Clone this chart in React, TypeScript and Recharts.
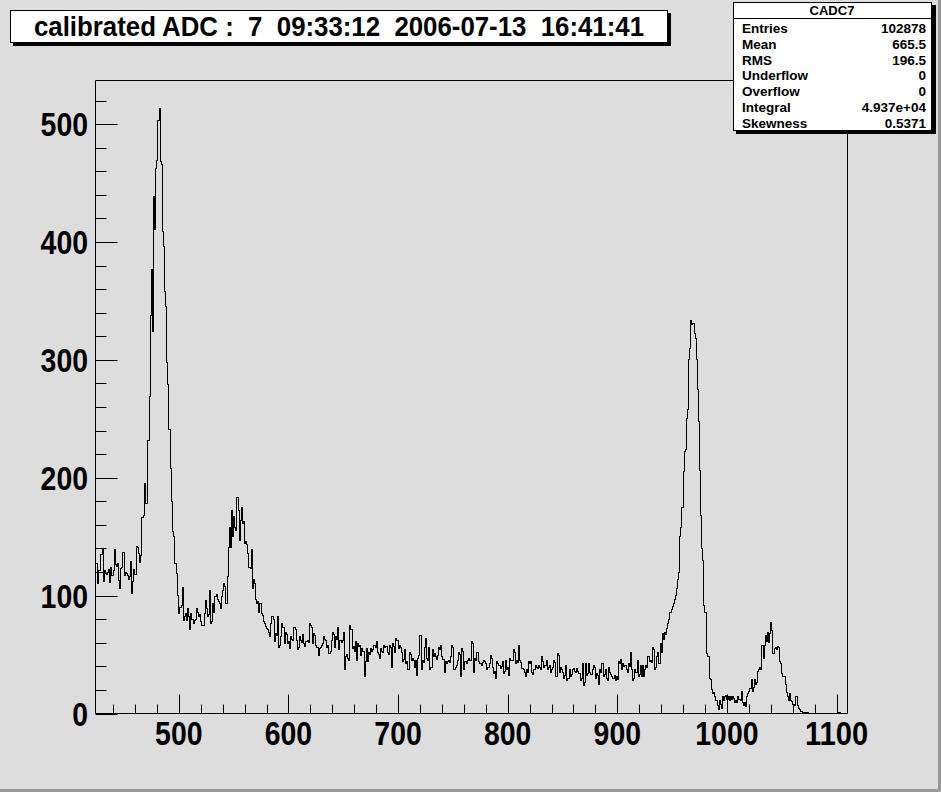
import React from "react";
import { LineChart, Line, XAxis, YAxis, ReferenceArea } from "recharts";

// bin contents, 1 ADC unit per bin; each block starts at its own lower edge
const bgLeft = [127, 127, 110, 121, 121, 135, 139, 112, 121, 119, 118, 120, 122, 111, 124, 117, 121, 139, 126, 125, 127, 113, 106, 123, 124, 137, 117, 120, 119, 117, 114, 116, 129, 102, 112, 122, 118, 142, 141, 136, 128, 134];
const peak1 = [166, 166, 168, 195, 178, 232, 232, 269, 338, 377, 324, 439, 411, 462, 469, 503, 513, 468, 466, 409, 396, 358, 345, 298, 279, 241, 208, 180, 154, 150, 127, 127, 119, 100, 85, 90, 92];
const valley = [107, 79, 82, 85, 79, 89, 82, 71, 85, 80, 76, 79, 80, 89, 86, 82, 84, 78, 75, 75, 85, 96, 89, 82, 84, 104, 76, 78, 93, 86, 99, 101, 97, 95, 93, 89, 99, 104, 110, 108, 93, 116];
const peak2 = [141, 158, 141, 172, 150, 167, 158, 155, 183, 172, 147, 164, 175, 161, 163, 144, 146, 143, 136, 124, 123, 139, 106, 114, 110, 97, 93, 95, 86, 93, 85, 83, 78, 76, 74, 72, 71, 69, 65, 76, 82, 80, 61, 68, 66, 82, 56, 58, 65, 76, 73, 59, 69, 67, 59, 61];
const flatA = [55, 65, 63, 62, 73, 71, 62, 54, 56, 65, 62, 60, 67, 59, 57, 61, 62, 60, 76, 75, 73, 59, 68, 66, 58, 56, 49, 55, 56, 58, 59, 65, 63, 62, 56, 58, 51, 53, 62, 69, 67, 56, 65, 63, 73, 54, 62, 60];
const flatB = [62, 69, 37, 48, 50, 47, 45, 75, 71, 55, 57, 53, 61, 45, 59, 57, 58, 49, 55, 53, 31, 44, 55, 44, 52, 50, 55, 53, 54, 58, 56, 61, 52, 50, 47, 55, 53, 52, 58, 56, 57, 52, 50, 58, 56, 39, 59, 57, 52, 64, 62, 55, 58, 56, 52, 44, 46, 54, 42, 44, 37, 52, 50, 45, 47, 45, 39, 45, 32, 47, 49, 66, 37, 45, 43, 56, 64, 47, 45, 56, 37];
const flatC = [
  39, 54, 48, 51, 48, 46, 49, 56, 54, 58,
  48, 46, 35, 44, 42, 44, 45, 43, 48, 58,
  56, 37, 39, 41, 45, 52, 50, 31, 55, 53,
  37, 44, 42, 45, 47, 45, 45, 61, 59, 35,
  47, 45, 52, 44, 42, 42, 41, 43, 45, 44,
  42, 37, 39, 42, 49, 47, 39, 34, 36, 30,
  44, 42, 41, 38, 40, 44, 34, 36, 45, 37,
  39, 32, 47, 45, 45, 54, 52, 42, 45, 43,
  58, 45, 43, 38, 37, 35, 31, 37, 35, 44,
  42, 44, 35, 33, 37, 41, 39, 38, 41, 39,
];
const flatD = [
  37, 48, 44, 39, 41, 45, 37, 39, 41, 35,
  37, 39, 45, 43, 31, 51, 49, 35, 39, 37,
  35, 30, 32, 41, 28, 30, 37, 31, 33, 37,
  38, 36, 35, 38, 36, 34, 28, 30, 42, 24,
  26, 42, 32, 34, 42, 35, 33, 37, 41, 39,
  30, 34, 32, 25, 37, 35, 42, 31, 33, 37,
  30, 28, 39, 35, 33, 31, 30, 32, 28, 31,
  29, 44, 42, 46, 37, 42, 40, 41, 37, 35,
  42, 40, 52, 37, 28, 30, 37, 35, 45, 31,
  33, 41, 31, 41, 31, 37, 41, 39, 48, 44,
  45, 43, 56, 54, 37, 39, 48, 52, 42, 59,
  52, 68, 63, 69, 67, 72, 76, 80, 86,
];
const peak3 = [88, 91, 93, 97, 100, 106, 114, 120, 150, 158, 175, 205, 222, 224, 250, 258, 300, 310, 333, 330, 331, 322, 318, 300, 275, 248, 206, 168, 140, 130, 92, 86, 51];
const peak4 = [
  48, 48, 30, 29, 20, 17, 18, 14,
  11, 7, 3, 11, 8, 4, 14, 11, 14, 15,
  12, 14, 11, 14, 12, 14, 13, 9, 11, 9,
  14, 12, 11, 19, 9, 7, 9, 6, 14, 17,
  19, 21, 29, 19, 22, 29, 25, 26, 36, 37,
  39, 37, 58, 47, 58, 66, 61, 69, 60, 68,
  77, 70, 51, 55, 56, 54, 57, 56, 44, 42,
  34, 31, 31, 25, 18, 14, 11, 17, 11, 10,
  8, 8, 7, 14, 7, 4, 3, 2, 2, 1,
];
const endTail = [
  1, 1, 0, 1, 0, 0, 0, 0, 0, 0,
  0, 0, 0, 0, 0, 0, 0, 0, 0, 0,
  0, 0, 0, 0, 0, 0, 0, 0, 0, 0,
  0, 0, 1, 1, 0, 0, 0, 0, 0, 0,
];

const blocks: Array<[number, number[]]> = [
  [424, bgLeft], [466, peak1], [503, valley], [545, peak2], [601, flatA], [649, flatB],
  [730, flatC], [830, flatD], [949, peak3], [982, peak4], [1070, endTail],
];

const xTicks = [440, 460, 480, 500, 520, 540, 560, 580, 600, 620, 640, 660, 680, 700, 720, 740, 760, 780, 800, 820, 840, 860, 880, 900, 920, 940, 960, 980, 1000, 1020, 1040, 1060, 1080, 1100];
const yTicks = [0, 20, 40, 60, 80, 100, 120, 140, 160, 180, 200, 220, 240, 260, 280, 300, 320, 340, 360, 380, 400, 420, 440, 460, 480, 500, 520];

const statNames = ["Entries", "Mean", "RMS", "Underflow", "Overflow", "Integral", "Skewness"];
const statValues = ["102878", "665.5", "196.5", "0", "0", "4.937e+04", "0.5371"];

const X_MIN = 424;
const X_MAX = 1110;
const Y_MAX = 537;

const PLOT_L = 95.5;
const PLOT_B = 713.5;
const FONT = "'Liberation Sans', Arial, Helvetica, sans-serif";

const data = blocks.flatMap(([start, vals]) => vals.map((count, i) => ({ adc: start + i, count })));
data.push({ adc: X_MAX, count: data[data.length - 1].count });

function XTick(props: any) {
  const { x, payload } = props;
  const v = payload.value;
  const major = v % 100 === 0;
  const px = Math.round(x) + 0.5;
  return (
    <g>
      <line x1={px} x2={px} y1={PLOT_B} y2={PLOT_B - (major ? 19 : 9)} stroke="#000" strokeWidth={1} />
      {major && (
        <text x={x} y={745} textAnchor="middle" fontFamily={FONT} fontWeight="bold" fontSize={33} fill="#000"
          textLength={String(v).length * 15.8} lengthAdjust="spacingAndGlyphs">{v}</text>
      )}
    </g>
  );
}

function YTick(props: any) {
  const { y, payload } = props;
  const v = payload.value;
  const major = v % 100 === 0;
  const py = Math.round(y) + 0.5;
  return (
    <g>
      <line x1={PLOT_L} x2={PLOT_L + (major ? 22 : 11)} y1={py} y2={py} stroke="#000" strokeWidth={1} />
      {major && (
        <text x={88} y={y + 12} textAnchor="end" fontFamily={FONT} fontWeight="bold" fontSize={33} fill="#000"
          textLength={String(v).length * 15.8} lengthAdjust="spacingAndGlyphs">{v}</text>
      )}
    </g>
  );
}

export default function App() {
  return (
    <div style={{ position: "absolute", left: 0, top: 0, width: 941, height: 792, background: "#dddddd", overflow: "hidden" }}>
      <div style={{ position: "absolute", left: 0, top: 0 }}>
        <LineChart width={941} height={792} data={data} margin={{ top: 80.5, right: 93.5, left: 35.5, bottom: 48.5 }}>
          <XAxis dataKey="adc" type="number" domain={[X_MIN, X_MAX]} allowDataOverflow ticks={xTicks} interval={0}
            height={30} tickLine={false} axisLine={false} tick={<XTick />} />
          <YAxis type="number" domain={[0, Y_MAX]} allowDataOverflow ticks={yTicks} interval={0}
            width={60} tickLine={false} axisLine={false} tick={<YTick />} />
          <ReferenceArea x1={X_MIN} x2={X_MAX} y1={0} y2={Y_MAX} fill="none" fillOpacity={0} stroke="#000" strokeWidth={1} ifOverflow="visible" />
          <Line dataKey="count" type="stepAfter" stroke="#000" strokeWidth={1} dot={false} activeDot={false}
            isAnimationActive={false} shapeRendering="crispEdges" />
        </LineChart>
      </div>
      <svg width={941} height={792} style={{ position: "absolute", left: 0, top: 0, pointerEvents: "none" }}>
        {/* title pave */}
        <rect x={13} y={13} width={658} height={33} fill="#000" />
        <rect x={10.5} y={10.5} width={657} height={32} fill="#fff" stroke="#000" strokeWidth={1} />
        <text x={34} y={36} fontFamily={FONT} fontWeight="bold" fontSize={28} fill="#000" style={{ whiteSpace: "pre" }}
          textLength={610} lengthAdjust="spacingAndGlyphs">calibrated ADC :  7  09:33:12  2006-07-13  16:41:41</text>
        {/* stats box */}
        <rect x={736} y={5} width={200} height={129} fill="#000" />
        <rect x={733.5} y={2.5} width={198} height={128} fill="#fff" stroke="#000" strokeWidth={1} />
        <line x1={733.5} x2={931.5} y1={18.5} y2={18.5} stroke="#000" strokeWidth={1} />
        <text x={832} y={15} textAnchor="middle" fontFamily={FONT} fontWeight="bold" fontSize={13} fill="#000">CADC7</text>
        {statNames.map((name, i) => (
          <g key={name}>
            <text x={742} y={33 + i * 15.8} fontFamily={FONT} fontWeight="bold" fontSize={13.5} fill="#000">{name}</text>
            <text x={926} y={33 + i * 15.8} textAnchor="end" fontFamily={FONT} fontWeight="bold" fontSize={13.5} fill="#000">{statValues[i]}</text>
          </g>
        ))}
        {/* canvas bevel */}
        <rect x={938} y={0} width={3} height={792} fill="#999" />
        <rect x={0} y={789} width={941} height={3} fill="#999" />
      </svg>
    </div>
  );
}
